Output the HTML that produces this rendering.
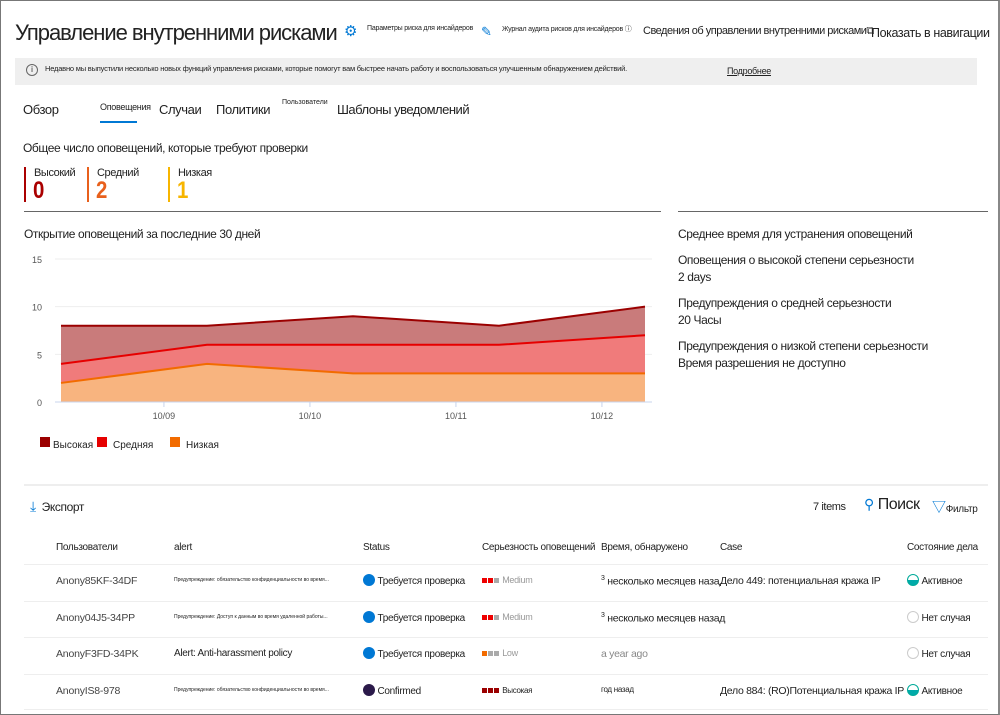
<!DOCTYPE html>
<html><head><meta charset="utf-8">
<style>
*{margin:0;padding:0;box-sizing:border-box}
body{width:1000px;height:715px;background:#fff;font-family:"Liberation Sans","Noto Sans CJK SC",sans-serif;color:#222;position:relative;overflow:hidden}
.a{position:absolute;white-space:nowrap}
.frame{position:absolute;left:0;top:0;width:1000px;height:715px;border:1px solid #777;border-right:2px solid #888;pointer-events:none}
.s12{font-size:12px;letter-spacing:-0.4px}
.s11{font-size:11px;letter-spacing:-0.4px}
.tiny{font-size:6px;letter-spacing:-0.2px}
.hr{position:absolute;height:1px;background:#e8e8e8}
</style></head><body>
<div class="frame"></div>

<div class="a" style="left:15px;top:20px;font-size:22px;letter-spacing:-1.05px">Управление внутренними рисками</div>
<div class="a" style="left:344px;top:22px;font-size:15px;color:#0078d4">⚙</div>
<div class="a tiny" style="left:367px;top:25px;font-size:7px">Параметры риска для инсайдеров</div>
<div class="a" style="left:481px;top:24px;font-size:13px;color:#0078d4">✎</div>
<div class="a tiny" style="left:502px;top:24px;font-size:7px">Журнал аудита рисков для инсайдеров ⓘ</div>
<div class="a s11" style="left:643px;top:25px;letter-spacing:-0.5px">Сведения об управлении внутренними рисками⧉</div>
<div class="a" style="left:871px;top:26px;font-size:12.5px;letter-spacing:-0.4px">Показать в навигации</div>

<div class="a" style="left:15px;top:58px;width:962px;height:27px;background:#efefef"></div>
<div class="a" style="left:26px;top:64px;width:12px;height:12px;border:1px solid #666;border-radius:50%;font-size:8px;text-align:center;line-height:10px">i</div>
<div class="a" style="left:45px;top:64px;font-size:7.5px;letter-spacing:-0.2px">Недавно мы выпустили несколько новых функций управления рисками, которые помогут вам быстрее начать работу и воспользоваться улучшенным обнаружением действий.</div>
<div class="a" style="left:727px;top:66px;font-size:9px;letter-spacing:-0.3px;text-decoration:underline">Подробнее</div>

<div class="a" style="left:23px;top:102px;font-size:13px;letter-spacing:-0.4px">Обзор</div>
<div class="a" style="left:100px;top:102px;font-size:9px;letter-spacing:-0.3px">Оповещения</div>
<div class="a" style="left:100px;top:121px;width:37px;height:2px;background:#0078d4"></div>
<div class="a" style="left:159px;top:102px;font-size:13px;letter-spacing:-0.4px">Случаи</div>
<div class="a" style="left:216px;top:102px;font-size:13px;letter-spacing:-0.4px">Политики</div>
<div class="a" style="left:282px;top:99px;font-size:7px">Пользователи</div>
<div class="a" style="left:337px;top:102px;font-size:13px;letter-spacing:-0.5px">Шаблоны уведомлений</div>

<div class="a s12" style="left:23px;top:141px">Общее число оповещений, которые требуют проверки</div>
<div class="a" style="left:24px;top:167px;width:2px;height:35px;background:#a00"></div>
<div class="a s11" style="left:34px;top:167px">Высокий</div>
<div class="a" style="left:33px;top:177px;font-size:24px;font-weight:bold;color:#a00;transform:scaleX(0.85);transform-origin:left">0</div>
<div class="a" style="left:87px;top:167px;width:2px;height:35px;background:#e8601c"></div>
<div class="a s11" style="left:97px;top:167px">Средний</div>
<div class="a" style="left:96px;top:177px;font-size:24px;font-weight:bold;color:#e8601c;transform:scaleX(0.85);transform-origin:left">2</div>
<div class="a" style="left:168px;top:167px;width:2px;height:35px;background:#f7b500"></div>
<div class="a s11" style="left:178px;top:167px">Низкая</div>
<div class="a" style="left:177px;top:177px;font-size:24px;font-weight:bold;color:#f7b500;transform:scaleX(0.85);transform-origin:left">1</div>

<div class="a" style="left:24px;top:211px;width:637px;height:1px;background:#666"></div>
<div class="a" style="left:678px;top:211px;width:310px;height:1px;background:#666"></div>

<div class="a s12" style="left:24px;top:227px">Открытие оповещений за последние 30 дней</div>

<svg class="a" id="chart" style="left:0;top:240px" width="670" height="220"></svg>

<div class="a s12" style="left:678px;top:227px">Среднее время для устранения оповещений</div>
<div class="a s12" style="left:678px;top:253px">Оповещения о высокой степени серьезности</div>
<div class="a s12" style="left:678px;top:270px">2 days</div>
<div class="a s12" style="left:678px;top:296px">Предупреждения о средней серьезности</div>
<div class="a s12" style="left:678px;top:313px">20 Часы</div>
<div class="a s12" style="left:678px;top:339px">Предупреждения о низкой степени серьезности</div>
<div class="a s12" style="left:678px;top:356px">Время разрешения не доступно</div>

<div class="hr" style="left:24px;top:484px;width:964px;height:2px;background:#eee"></div>
<div class="a" style="left:30px;top:498px;font-size:12px;letter-spacing:-0.4px"><span style="color:#0078d4;font-size:14px">⤓</span>&nbsp;&nbsp;Экспорт</div>
<div class="a s11" style="left:813px;top:501px">7 items</div>
<div class="a" style="left:864px;top:496px;font-size:16px;letter-spacing:-0.5px"><span style="color:#0078d4;font-size:14px">⚲</span> Поиск</div>
<div class="a" style="left:932px;top:497px;font-size:10px;letter-spacing:-0.3px"><span style="color:#0078d4;font-size:14px">▽</span>Фильтр</div>

<div id="table"></div>

<script>
var categories=['10/08','10/09','10/10','10/11','10/12'];
var lowValues=[2,4,3,3,3];
var mediumValues=[2,2,3,3,4];
var highValues=[4,2,3,2,3];
var yTicks=[0,5,10,15];
var xTickLabels=['10/09','10/10','10/11','10/12'];
var xTickIndex=[0.705,1.705,2.705,3.705];

var svg=document.getElementById('chart');
var NS='http://www.w3.org/2000/svg';
var X0=61,X1=645,Y0=162,Y15=19;
function xs(i){return X0+(X1-X0)*i/(categories.length-1);}
function ys(v){return Y0+(Y15-Y0)*v/15;}
function mk(t,at){var e=document.createElementNS(NS,t);for(var k in at)e.setAttribute(k,at[k]);svg.appendChild(e);return e;}
yTicks.forEach(function(t){
  if(t>0){var g=mk('line',{x1:55,x2:652,y1:ys(t),y2:ys(t),stroke:'#eee','stroke-width':1});
  
  }
  var tx=mk('text',{x:42,y:ys(t)+4,'font-size':9,fill:'#555','text-anchor':'end','font-family':'Liberation Sans'});
  tx.textContent=t;
  
  
});
var c1=lowValues.slice(),c2=lowValues.map(function(v,i){return v+mediumValues[i];}),c3=c2.map(function(v,i){return v+highValues[i];});
function area(top,bot,fill,stroke,name){
  var d='';top.forEach(function(v,i){d+=(i?'L':'M')+xs(i)+','+ys(v);});
  for(var i=bot.length-1;i>=0;i--)d+='L'+xs(i)+','+ys(bot[i]);
  var p=mk('path',{d:d+'Z',fill:fill});
  
  
  var l='';top.forEach(function(v,i){l+=(i?'L':'M')+xs(i)+','+ys(v);});
  var q=mk('path',{d:l,fill:'none',stroke:stroke,'stroke-width':2});
  
  
}
var zeros=categories.map(function(){return 0;});
area(c3,c2,'#c97b7b','#9b0000','high');
area(c2,c1,'#f07b7b','#e60000','medium');
area(c1,zeros,'#f8b47f','#f26b00','low');
var ax=mk('line',{x1:55,x2:652,y1:Y0,y2:Y0,stroke:'#c8d4ec','stroke-width':1});


xTickLabels.forEach(function(lb,i){
  var x=xs(xTickIndex[i]);
  var t=mk('line',{x1:x,x2:x,y1:Y0,y2:Y0+5,stroke:'#c8d4ec'});
  
  
  var tx=mk('text',{x:x,y:Y0+17,'font-size':9,fill:'#555','text-anchor':'middle','font-family':'Liberation Sans'});
  tx.textContent=lb;
  
  
});
[['Высокая','#9b0000',40,53],['Средняя','#e60000',97,113],['Низкая','#f26b00',170,186]].forEach(function(L){
  var r=mk('rect',{x:L[2],y:197,width:10,height:10,fill:L[1]});
  
  
  var t=mk('text',{x:L[3],y:208,'font-size':10,fill:'#222','font-family':'Liberation Sans'});
  t.textContent=L[0];
  
  
});

var tb=document.getElementById('table');
function add(html,st,name,inter){var d=document.createElement('div');d.className='a';d.style.cssText=st;d.innerHTML=html;


tb.appendChild(d);}
var hdr=[['Пользователи',56],['alert',174],['Status',363],['Серьезность оповещений',482],['Время, обнаружено',601],['Case',720],['Состояние дела',907]];
hdr.forEach(function(h){add(h[0],'left:'+h[1]+'px;top:542px;font-size:10px;letter-spacing:-0.3px','column-header',true);});
var rows=[
 ['Anony85KF-34DF','Предупреждение: обязательство конфиденциальности во время...','#0078d4','Требуется проверка',['#e00','#e00','#aaa'],'Medium','<sup style="font-size:7px">3</sup> несколько месяцев назад','Дело 449: потенциальная кража IP','active'],
 ['Anony04J5-34PP','Предупреждение: Доступ к данным во время удаленной работы...','#0078d4','Требуется проверка',['#e00','#e00','#aaa'],'Medium','<sup style="font-size:7px">3</sup> несколько месяцев назад','','none'],
 ['AnonyF3FD-34PK','Alert: Anti-harassment policy','#0078d4','Требуется проверка',['#f26b00','#aaa','#aaa'],'Low','a year ago','','none'],
 ['AnonyIS8-978','Предупреждение: обязательство конфиденциальности во время...','#2b1a4a','Confirmed',['#9b0000','#9b0000','#9b0000'],'Высокая','год назад','Дело 884: (RO)Потенциальная кража IP','active']
];
rows.forEach(function(r,i){
  var y=575+i*36.5;
  add('','left:24px;top:'+(y-11)+'px;width:964px;height:1px;background:#eee','row-divider',false);
  add(r[0],'left:56px;top:'+y+'px;font-size:10.5px;color:#444;letter-spacing:-0.2px','user-name',true);
  var small=r[1].indexOf('Alert:')!==0;
  add(r[1],'left:174px;top:'+(small?y+2:y)+'px;font-size:'+(small?'5px':'10px')+';letter-spacing:'+(small?'0':'-0.3px'),'alert-title',true);
  add('<span style="display:inline-block;width:12px;height:12px;border-radius:50%;background:'+r[2]+';vertical-align:-2px"></span> '+r[3],'left:363px;top:'+(y-1)+'px;font-size:10px;letter-spacing:-0.3px','status',false);
  add(r[4].map(function(c){return '<span style="display:inline-block;width:5px;height:5px;margin-right:1px;background:'+c+'"></span>';}).join('')+' <span style="color:'+(r[5]==='Высокая'?'#222':'#999')+';font-size:'+(r[5]==='Высокая'?'8px':'9px')+'">'+r[5]+'</span>','left:482px;top:'+y+'px;font-size:9px;letter-spacing:-0.3px','severity',false);
  var tcol=r[6]==='a year ago'?'#888':'#222';
  add(r[6],'left:601px;top:'+y+'px;font-size:'+(r[6]==='год назад'?'8px':'10.5px')+';color:'+tcol+';letter-spacing:-0.3px','time-detected',false);
  if(r[7])add(r[7],'left:720px;top:'+y+'px;font-size:10.5px;letter-spacing:-0.3px;background:'+(i===0?'#fff':'transparent'),'case-link',true);
  var ic=r[8]==='active'?'<span style="display:inline-block;width:12px;height:12px;border-radius:50%;border:1px solid #0a9;background:linear-gradient(#fff 50%,#0aa 50%);vertical-align:-2px"></span> Активное':'<span style="display:inline-block;width:12px;height:12px;border-radius:50%;border:1px solid #ccc;vertical-align:-2px"></span> Нет случая';
  add(ic,'left:907px;top:'+(y-1)+'px;font-size:10px;letter-spacing:-0.3px','case-state',false);
});
add('','left:24px;top:709px;width:964px;height:1px;background:#eee','row-divider',false);
</script>
</body></html>
